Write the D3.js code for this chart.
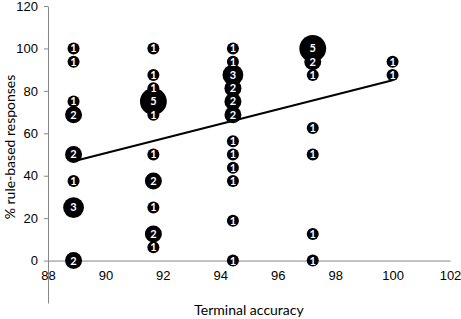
<!DOCTYPE html>
<html>
<head>
<meta charset="utf-8">
<script src="https://cdn.jsdelivr.net/npm/d3@7"></script>
<style>
body { margin: 0; background: #fff; }
svg { font-family: Lato, "Open Sans", sans-serif; }
.axis path, .axis line { stroke: #868686; }
.axis text { fill: #000; font-size: 13px; }
</style>
</head>
<body>
<svg id="chart" width="461" height="319"></svg>
<script>
// terminal accuracy columns (x), share of rule-based responses (y), participant count (n)
var accX = [88.89, 88.89, 88.89, 88.89, 88.89, 88.89, 88.89, 88.89,
            91.67, 91.67, 91.67, 91.67, 91.67, 91.67, 91.67, 91.67, 91.67, 91.67,
            94.44, 94.44, 94.44, 94.44, 94.44, 94.44, 94.44, 94.44, 94.44, 94.44, 94.44, 94.44,
            97.22, 97.22, 97.22, 97.22, 97.22, 97.22, 97.22,
            100, 100];
var ruleY = [100, 93.75, 75, 68.75, 50, 37.5, 25, 0,
             100, 87.5, 81.25, 75, 68.75, 50, 37.5, 25, 12.5, 6.25,
             100, 93.75, 87.5, 81.25, 75, 68.75, 56.25, 50, 43.75, 37.5, 18.75, 0,
             100, 93.75, 87.5, 62.5, 50, 12.5, 0,
             93.75, 87.5];
var counts = [1, 1, 1, 2, 2, 1, 3, 2,
              1, 1, 1, 5, 1, 1, 2, 1, 2, 1,
              1, 1, 3, 2, 2, 2, 1, 1, 1, 1, 1, 1,
              5, 2, 1, 1, 1, 1, 1,
              1, 1];
var trendX = [88.89, 100];
var trendY = [46.8, 85];
var xTicks = [88, 90, 92, 94, 96, 98, 100, 102];
var yTicks = [0, 20, 40, 60, 80, 100, 120];

var svg = d3.select("#chart");

var x = d3.scaleLinear().domain([88, 102]).range([48, 450]);
var y = d3.scaleLinear().domain([-20, 120]).range([303, 6]);
var r = function (n) { return 6 * Math.sqrt(n); };

// x axis crosses at y = 0
svg.append("g")
  .attr("class", "axis")
  .attr("transform", "translate(0," + y(0) + ")")
  .call(d3.axisBottom(x).tickValues(xTicks).tickSize(0).tickPadding(10).tickSizeOuter(0))
  .selectAll("text").attr("dy", "0.71em");

svg.append("g")
  .attr("class", "axis")
  .attr("transform", "translate(" + x(88) + ",0)")
  .call(d3.axisLeft(y).tickValues(yTicks).tickSize(4).tickPadding(6).tickSizeOuter(0));

var pts = accX.map(function (d, i) { return { x: d, y: ruleY[i], n: counts[i] }; });
// draw big bubbles first so small ones stay visible
pts.sort(function (a, b) { return b.n - a.n; });

var g = svg.append("g");
g.selectAll("circle")
  .data(pts)
  .enter()
  .append("circle")
  .attr("cx", function (d) { return x(d.x); })
  .attr("cy", function (d) { return y(d.y); })
  .attr("r", function (d) { return r(d.n); })
  .attr("fill", "#000");

g.selectAll("text")
  .data(pts)
  .enter()
  .append("text")
  .attr("x", function (d) { return x(d.x); })
  .attr("y", function (d) { return y(d.y); })
  .attr("dy", "0.36em")
  .attr("text-anchor", "middle")
  .attr("fill", "#fff")
  .attr("font-size", "11px")
  .attr("font-weight", "bold")
  .text(function (d) { return d.n; });

svg.append("path")
  .datum(trendX.map(function (d, i) { return [d, trendY[i]]; }))
  .attr("fill", "none")
  .attr("stroke", "#000")
  .attr("stroke-width", 2)
  .attr("d", d3.line().x(function (d) { return x(d[0]); }).y(function (d) { return y(d[1]); }));

svg.append("text")
  .attr("x", 249)
  .attr("y", 315)
  .attr("text-anchor", "middle")
  .attr("font-size", "14px")
  .text("Terminal accuracy");

svg.append("text")
  .attr("transform", "translate(15,147) rotate(-90)")
  .attr("text-anchor", "middle")
  .attr("font-size", "14px")
  .text("% rule-based responses");
</script>
</body>
</html>
